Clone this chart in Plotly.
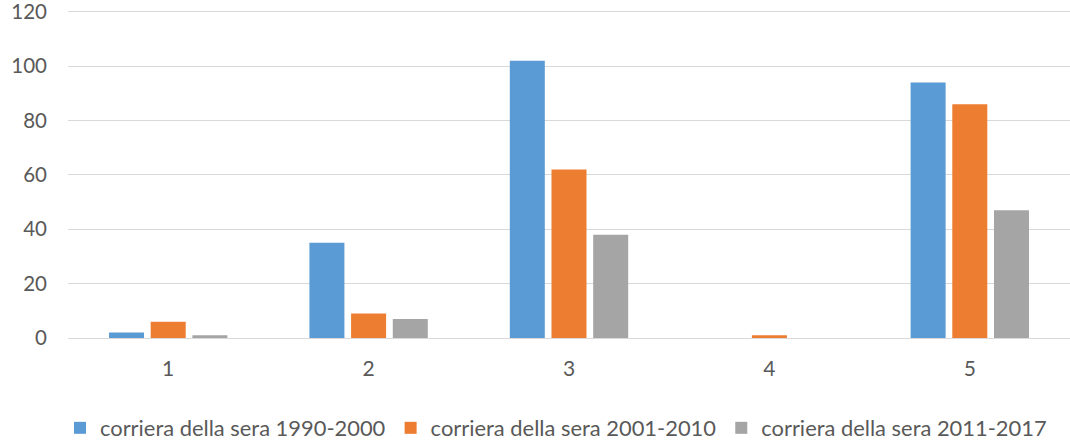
import plotly.graph_objects as go

categories = ["1", "2", "3", "4", "5"]
series_names = ["corriera della sera 1990-2000", "corriera della sera 2001-2010", "corriera della sera 2011-2017"]
values_1990_2000 = [2, 35, 102, 0, 94]
values_2001_2010 = [6, 9, 62, 1, 86]
values_2011_2017 = [1, 7, 38, 0, 47]
colors = ["#5B9BD5", "#ED7D31", "#A5A5A5"]
y_ticks = [0, 20, 40, 60, 80, 100, 120]

fig = go.Figure()
for name, vals, col in zip(series_names, [values_1990_2000, values_2001_2010, values_2011_2017], colors):
    fig.add_trace(go.Bar(x=categories, y=vals, name=name, marker=dict(color=col, line=dict(width=0))))

font_family = "Lato, 'Open Sans', sans-serif"
fig.update_layout(
    width=1070, height=447,
    paper_bgcolor="white", plot_bgcolor="white",
    margin=dict(l=68, r=0, t=9, b=109, autoexpand=False),
    barmode="group", bargap=0.376, bargroupgap=0.16,
    font=dict(family=font_family, size=21, color="#595959"),
    xaxis=dict(type="category", showgrid=False, showline=True, linecolor="#D9D9D9", linewidth=1,
               ticks="", automargin=False, ticklabelstandoff=12,
               tickfont=dict(size=21, color="#595959")),
    yaxis=dict(range=[0, 121], tickvals=y_ticks, showgrid=True, gridcolor="#D9D9D9", gridwidth=1,
               zeroline=False, showline=False, ticks="", ticklabelstandoff=20, automargin=False,
               ticklabeloverflow="allow",
               tickfont=dict(size=20.5, color="#595959")),
    legend=dict(orientation="h", x=0.487, xanchor="center", y=-0.21, yanchor="top",
                font=dict(size=21.9, color="#595959"), itemwidth=30, traceorder="normal"),
    showlegend=True,
)
fig.write_html("out.html", config={"displayModeBar": False},
               post_script="document.body.style.margin='0px';")
